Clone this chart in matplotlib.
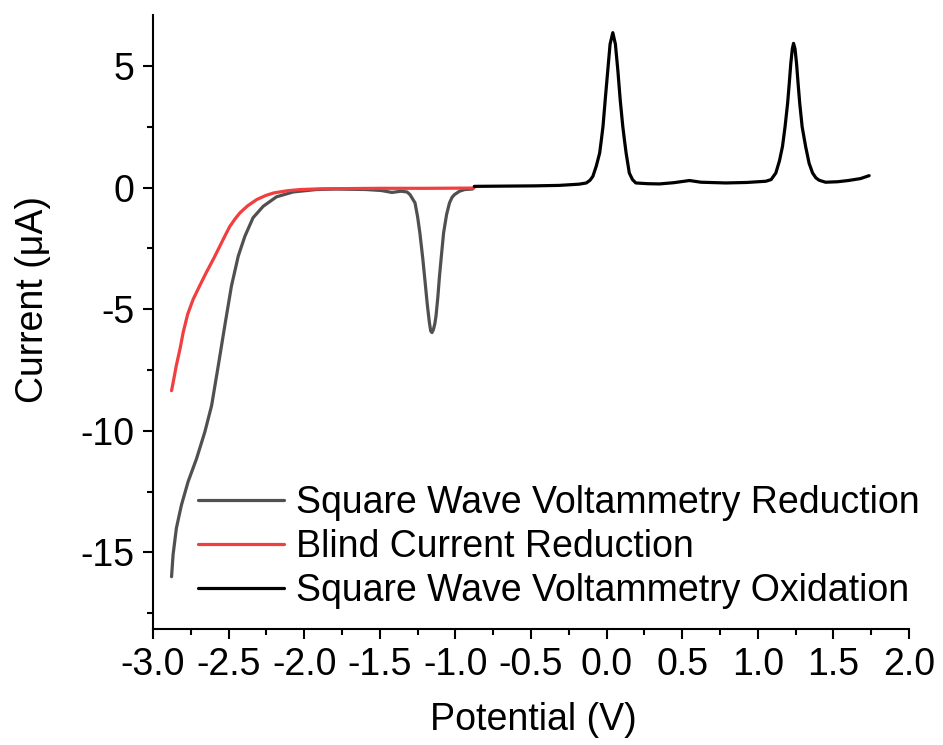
import numpy as np
import matplotlib
matplotlib.use('Agg')
import matplotlib.pyplot as plt
from matplotlib.ticker import MultipleLocator

# Square wave voltammetry, reduction sweep (grey)
red_x = [-2.877, -2.867, -2.845, -2.812, -2.768, -2.712, -2.657, -2.612, -2.568,
         -2.525, -2.481, -2.436, -2.392, -2.338, -2.271, -2.183, -2.073, -1.919,
         -1.79, -1.59, -1.49, -1.42, -1.36, -1.32,
         -1.30, -1.267, -1.25, -1.235, -1.216, -1.20, -1.186, -1.172, -1.163, -1.155,
         -1.146, -1.136, -1.128, -1.116, -1.105, -1.091, -1.078, -1.058, -1.039,
         -1.022, -1.006, -0.973, -0.938, -0.887]
red_y = [-16.0, -15.1, -14.0, -13.06, -12.1, -11.15, -10.05, -8.96, -7.32,
         -5.68, -4.05, -2.82, -2.0, -1.24, -0.77, -0.38, -0.18, -0.08,
         -0.06, -0.08, -0.12, -0.2, -0.15, -0.18,
         -0.29, -0.63, -1.2, -1.86, -2.9, -3.9, -4.8, -5.55, -5.9, -5.96,
         -5.85, -5.6, -5.27, -4.5, -3.63, -2.7, -1.86, -1.1, -0.63,
         -0.4, -0.29, -0.15, -0.08, -0.06]

# Blind current, reduction sweep (red)
blind_x = [-2.877, -2.86, -2.845, -2.82, -2.80, -2.77, -2.734, -2.688, -2.648,
           -2.597, -2.557, -2.521, -2.491, -2.456, -2.425, -2.374, -2.313, -2.252,
           -2.201, -2.111, -2.024, -1.888, -1.485, -1.183, -0.877]
blind_y = [-8.35, -7.8, -7.3, -6.6, -5.95, -5.2, -4.59, -4.0, -3.5,
           -2.9, -2.4, -1.95, -1.59, -1.28, -1.04, -0.75, -0.49, -0.32,
           -0.22, -0.13, -0.08, -0.05, -0.03, -0.03, -0.02]

# Square wave voltammetry, oxidation sweep (black)
ox_x = [-0.875, -0.685, -0.483, -0.313, -0.182, -0.134, -0.11, -0.091, -0.069,
        -0.046, -0.035, -0.024, -0.008, 0.008, 0.023, 0.041, 0.058, 0.074,
        0.09, 0.107, 0.118, 0.129, 0.150, 0.171, 0.193, 0.27, 0.349, 0.443,
        0.548, 0.624, 0.789, 0.926, 1.053, 1.088, 1.119, 1.143, 1.163, 1.18,
        1.197, 1.208, 1.218, 1.228, 1.236, 1.246, 1.256, 1.266, 1.277, 1.293,
        1.316, 1.339, 1.362, 1.384, 1.406, 1.448, 1.528, 1.598, 1.679, 1.736]
ox_y = [0.05, 0.06, 0.07, 0.09, 0.14, 0.19, 0.3, 0.46, 0.87,
        1.42, 1.95, 2.51, 3.7, 4.84, 5.9, 6.37, 5.9, 4.84,
        3.6, 2.51, 1.95, 1.42, 0.6, 0.33, 0.19, 0.16, 0.15, 0.2,
        0.29, 0.22, 0.19, 0.21, 0.26, 0.33, 0.6, 1.1, 1.69, 2.5,
        3.47, 4.3, 5.1, 5.7, 5.93, 5.7, 5.1, 4.3, 3.47, 2.5,
        1.69, 1.0, 0.6, 0.4, 0.3, 0.22, 0.24, 0.29, 0.37, 0.49]

plt.rcParams['font.family'] = ['Liberation Sans', 'DejaVu Sans']
plt.rcParams['font.size'] = 27

fig = plt.figure(figsize=(9.43, 7.45), dpi=100)
ax = fig.add_axes([0.1622, 0.1557, 0.8018, 0.8243])

line_kw = dict(lw=2.3, solid_joinstyle='round', solid_capstyle='round')
ax.plot(red_x, red_y, color='#505050', label='Square Wave Voltammetry Reduction', **line_kw)
ax.plot(blind_x, blind_y, color='#f23e3e', label='Blind Current Reduction', **line_kw)
ax.plot(ox_x, ox_y, color='black', label='Square Wave Voltammetry Oxidation', **line_kw)

ax.set_xlim(-3.0, 2.0)
ax.set_ylim(-18.15, 7.1)
ax.xaxis.set_minor_locator(MultipleLocator(0.25))
ax.yaxis.set_minor_locator(MultipleLocator(2.5))
xt = np.arange(-3.0, 2.01, 0.5)
ax.set_xticks(xt)
ax.set_xticklabels(['%.1f' % v for v in xt])
ax.set_yticks([-15, -10, -5, 0, 5])
ax.set_yticklabels(['-15', '-10', '-5', '0', '5'])

for side in ['top', 'right']:
    ax.spines[side].set_visible(False)
for side in ['left', 'bottom']:
    ax.spines[side].set_linewidth(1.5)
ax.tick_params(which='major', direction='out', length=7.5, width=1.5, labelsize=27)
ax.tick_params(which='minor', direction='out', length=4, width=1.5)
ax.tick_params(axis='x', pad=5.5)
ax.tick_params(axis='y', pad=6)

ax.set_xlabel('Potential (V)', fontsize=27)
ax.set_ylabel('Current (μA)', fontsize=27)
ax.xaxis.set_label_coords(0.503, -0.119)
ax.yaxis.set_label_coords(-0.135, 0.536)

ax.legend(loc='center left', bbox_to_anchor=(198 / 943, 1 - 547 / 745),
          bbox_transform=fig.transFigure, frameon=False, fontsize=27,
          handlelength=2.3, handletextpad=0.3, labelspacing=0.22,
          borderpad=0, borderaxespad=0)

fig.savefig('out.png', dpi=100)
